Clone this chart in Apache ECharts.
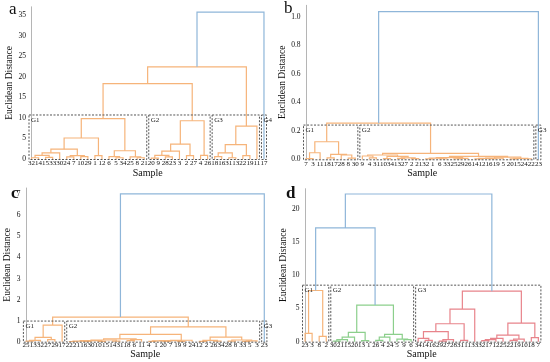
<!DOCTYPE html>
<html><head><meta charset="utf-8">
<script src="https://cdn.jsdelivr.net/npm/echarts@6/dist/echarts.min.js"></script>
<style>html,body{margin:0;padding:0;background:#fff}#c{width:550px;height:362px}</style>
</head><body><div id="c"></div>
<script>
// ---------- DATA ----------
// leaf labels in dendrogram order
const labelsA = [32,14,15,33,30,24,7,10,29,1,12,6,5,34,25,8,21,20,9,28,23,3,2,27,4,26,18,16,31,13,22,19,11,17].map(String);
const labelsB = [7,3,11,18,17,28,8,30,9,4,31,10,34,13,27,2,21,32,1,6,33,25,29,26,14,12,16,19,5,20,15,24,22,23].map(String);
const labelsC = [25,13,32,27,29,17,22,21,16,30,10,15,14,31,18,6,11,4,1,20,7,19,9,24,12,2,26,34,28,8,33,5,3,23].map(String);
const labelsD = [23,3,8,2,30,21,15,20,13,1,26,4,24,5,9,6,34,14,16,29,27,28,31,11,33,32,17,12,25,22,19,10,18,7].map(String);

// merge trees: [height, left, right]; integers are leaf positions
const a_G1 = [9.8, [5.1, [2.4, [1.5, [0.9, [0.3,0,1], [0.4,2,3]], 4], [0.8, [0.5,5,6], [0.6,7,8]]], [0.8,9,10]],
                    [2.0, [0.6, 11, [0.3,12,13]], [0.5, 14, [0.3,15,16]]]];
const a_G2 = [9.3, [3.6, [1.9, [0.9, [0.2,17,18], [0.5,19,20]], 21], [0.8,22,23]], [0.9,24,25]];
const a_G3 = [8.0, [3.5, [1.5, [0.6,26,27], [0.3,28,29]], [0.8,30,31]], 32];
const treeA = [35.7, [22.4, [18.3, a_G1, a_G2], a_G3], 33];

const b_G1 = [0.123, [0.046, [0.005,0,1], 2], [0.035, [0.01,3,4], [0.03, 5, [0.008,6,7]]]];
const b_G2L = [0.03, [0.023, 8, [0.01,9,10]], [0.02, [0.005,11,12], [0.01, [0.006,13,14], [0.005,15,16]]]];
const b_G2R1 = [0.012, [0.008, [0.003,17,18], [0.004,19,20]], [0.007, [0.004,21,22], 23]];
const b_G2R2 = [0.015, [0.008, [0.006, [0.003,24,25], [0.004,26,27]], 28], [0.006, [0.003,29,30], [0.004,31,32]]];
const treeB = [1.035, [0.253, b_G1, [0.042, b_G2L, [0.02, b_G2R1, b_G2R2]]], 33];

const c_G1 = [0.79, [0.21, [0.06, [0.03,0,1], 2], [0.1,3,4]], 5];
const c_L = [0.13, [0.08, [0.05, [0.03, [0.01,6,7], [0.02,8,9]], [0.02,10,11]], [0.03,12,13]], [0.1, [0.05,14,15], 16]];
const c_M = [0.07, [0.05, [0.04, [0.02,17,18], [0.02,19,20]], [0.02,21,22]], 23];
const c_R = [0.22, [0.06, [0.02,24,25], [0.03,26,27]], [0.08, [0.03,28,29], [0.04, [0.02,30,31], 32]]];
const treeC = [7.02, [1.17, c_G1, [0.70, [0.35, c_L, c_M], c_R]], 33];

const d_G1 = [7.7, [1.26,0,1], [0.8,2,3]];
const d_G2 = [5.5, [1.4, [0.7, [0.3, [0.1,4,5], 6], 7], [0.15,8,9]], [1.1, [0.7, [0.2,10,11], 12], [0.4, 13, [0.3,14,15]]]];
const d_G3 = [7.6, [4.9, [2.7, [1.5, [0.5, 16, [0.2,17,18]], [0.3, [0.1,19,20], 21]], [0.2,22,23]], 24],
                   [2.8, [1.0, [0.5, [0.3, [0.15,25,26], 27], 28], [0.4, [0.2,29,30], 31]], [0.6,32,33]]];
const treeD = [22.2, [17.1, d_G1, d_G2], d_G3];

// groups: [first leaf, last leaf]
const groupsA = [[0,16],[17,25],[26,32],[33,33]];
const groupsB = [[0,7],[8,32],[33,33]];
const groupsC = [[0,5],[6,32],[33,33]];
const groupsD = [[0,3],[4,15],[16,33]];
const groupNamesA = ['G1','G2','G3','G4'];
const groupNamesB = ['G1','G2','G3'];
const groupNamesC = ['G1','G2','G3'];
const groupNamesD = ['G1','G2','G3'];
const boxTops = [10.7, 0.24, 0.98, 8.5];
const thresholds = [30, 0.5, 3, 10];
const yMaxes = [37, 1.08, 7.3, 23];
const yIntervals = [5, 0.2, 1, 5];
const panelLetters = ['a','b','c','d'];

// ---------- STYLE ----------
const PALETTE = ['#f6b47a', '#8fb6d9', '#8ccf8c', '#e8848b'];
const groupColors = [[0,0,0,0],[0,0,0],[0,0,0],[0,2,3]];
const FONT = '"Liberation Serif", "Times New Roman", serif';

const panels = [
  {labels: labelsA, tree: treeA, groups: groupsA, names: groupNamesA, grid: {left: 28, top: 6.8, width: 239.5, height: 152.2}, nameGap: 10, letterPos: [9, 1], bold: 'normal'},
  {labels: labelsB, tree: treeB, groups: groupsB, names: groupNamesB, grid: {left: 302.5, top: 5.3, width: 239.4, height: 154}, nameGap: 10.5, letterPos: [284, 0], bold: 'normal'},
  {labels: labelsC, tree: treeC, groups: groupsC, names: groupNamesC, grid: {left: 22.4, top: 188, width: 245.5, height: 153.7}, nameGap: 5, letterPos: [11, 185], bold: 'bold'},
  {labels: labelsD, tree: treeD, groups: groupsD, names: groupNamesD, grid: {left: 301.5, top: 188.7, width: 240.4, height: 153}, nameGap: 9.5, letterPos: [286, 185], bold: 'bold'}
];

function buildLinks(tree, groups, gcols, thr) {
  const out = [];
  function leafColor(i) {
    for (let g = 0; g < groups.length; g++) if (i >= groups[g][0] && i <= groups[g][1]) return gcols[g];
    return 0;
  }
  function walk(node) {
    if (typeof node === 'number') return {x: node, h: 0, c: leafColor(node)};
    const l = walk(node[1]), r = walk(node[2]);
    const h = node[0];
    const c = h > thr ? 1 : l.c;
    out.push([l.x, l.h, r.x, r.h, h, c]);
    return {x: (l.x + r.x) / 2, h: h, c: c};
  }
  walk(tree);
  return out;
}

const option = {
  animation: false,
  backgroundColor: '#fff',
  grid: [], xAxis: [], yAxis: [], series: [], title: []
};

panels.forEach((p, i) => {
  const n = p.labels.length;
  option.grid.push(Object.assign({containLabel: false}, p.grid));
  option.xAxis.push({
    type: 'category', gridIndex: i, data: p.labels, boundaryGap: true,
    axisLine: {show: false}, axisTick: {show: false},
    axisLabel: {interval: 0, fontSize: 7, fontFamily: FONT, color: '#111', margin: i < 2 ? 1 : 0, hideOverlap: false},
    name: 'Sample', nameLocation: 'middle', nameGap: 8,
    nameTextStyle: {fontSize: 10, fontFamily: FONT, color: '#111'}
  });
  option.xAxis.push({type: 'value', gridIndex: i, min: -0.5, max: n - 0.5, show: false});
  option.yAxis.push({
    type: 'value', gridIndex: i, min: 0, max: yMaxes[i], interval: yIntervals[i],
    axisLine: {show: true, lineStyle: {color: '#b5b5b5', width: 1}},
    axisTick: {show: false}, splitLine: {show: false},
    axisLabel: {fontSize: 7.5, fontFamily: FONT, color: '#111', margin: 2, showMaxLabel: false,
      formatter: v => (yIntervals[i] < 1 ? v.toFixed(1) : String(Math.round(v)))},
    name: 'Euclidean Distance', nameLocation: 'middle', nameGap: p.nameGap,
    nameTextStyle: {fontSize: 9.5, fontFamily: FONT, color: '#111'}
  });
  const links = buildLinks(p.tree, p.groups, groupColors[i], thresholds[i]);
  option.series.push({
    type: 'custom', coordinateSystem: 'cartesian2d', xAxisIndex: 2 * i + 1, yAxisIndex: i,
    data: links, encode: {x: [0, 2], y: [1, 3, 4]}, silent: true,
    renderItem: (params, api) => {
      const x0 = api.value(0), y0 = api.value(1), x1 = api.value(2), y1 = api.value(3), h = api.value(4);
      return {
        type: 'polyline',
        shape: {points: [api.coord([x0, y0]), api.coord([x0, h]), api.coord([x1, h]), api.coord([x1, y1])]},
        style: {stroke: PALETTE[api.value(5)], lineWidth: 1.2, fill: null}
      };
    }
  });
  const boxes = p.groups.map((g, k) => [g[0], g[1], boxTops[i], k]);
  option.series.push({
    type: 'custom', coordinateSystem: 'cartesian2d', xAxisIndex: 2 * i + 1, yAxisIndex: i,
    data: boxes, encode: {x: [0, 1], y: [2]}, silent: true, z: 5,
    renderItem: (params, api) => {
      const tl = api.coord([api.value(0) - 0.5, api.value(2)]);
      const br = api.coord([api.value(1) + 0.5, 0]);
      return {
        type: 'group',
        children: [
          {type: 'rect', shape: {x: tl[0] + 1, y: tl[1], width: br[0] - tl[0] - 2, height: br[1] - tl[1] + 0.5},
           style: {stroke: '#555', lineWidth: 1, lineDash: [2, 1.5], fill: null}},
          {type: 'text', style: {text: p.names[api.value(3)], x: tl[0] + 3, y: tl[1] + 1.5,
            fontSize: 7, fontFamily: FONT, fill: '#222', verticalAlign: 'top', align: 'left'}}
        ]
      };
    }
  });
  option.title.push({text: panelLetters[i], left: p.letterPos[0], top: p.letterPos[1], padding: 0,
    textStyle: {fontSize: 17, fontFamily: FONT, fontWeight: p.bold, color: '#111'}});
});

const chart = echarts.init(document.getElementById('c'), null, {renderer: 'canvas', width: 550, height: 362});
chart.setOption(option);
</script>
</body></html>
